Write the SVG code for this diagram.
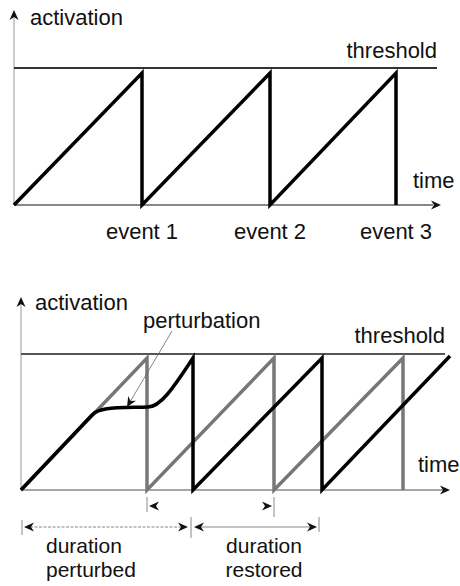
<svg xmlns="http://www.w3.org/2000/svg" xmlns:xlink="http://www.w3.org/1999/xlink" width="460" height="586" viewBox="0 0 460 586">
<style>
text{font-family:"Liberation Sans",Arial,sans-serif;font-size:22px;fill:#111}
.small{font-size:21px}
.ax{stroke:#999;stroke-width:1;fill:none}
.base{stroke:#888;stroke-width:2;fill:none}
.thr{stroke:#333;stroke-width:2;fill:none}
.wave{stroke:#000;stroke-width:3.5;fill:none;stroke-linejoin:miter;stroke-linecap:butt}
.gwave{stroke:#777;stroke-width:3.5;fill:none;stroke-linejoin:miter}
.dim{stroke:#888;stroke-width:1;fill:none}
.ah{fill:#111}
</style>
<defs>
<path id="ah" d="M0,0 L-10,-4.5 L-7,0 L-10,4.5 Z"/>
<path id="ahs" d="M0,0 L-10,-4.5 L-7,0 L-10,4.5 Z"/>
</defs>

<g id="top-plot">
  <g id="top-axes">
    <line class="ax" x1="14" y1="205" x2="14" y2="14"/>
    <use href="#ah" class="ah" transform="translate(14,10) rotate(-90)"/>
    <line class="base" x1="14" y1="205" x2="433" y2="205"/>
    <use href="#ah" class="ah" transform="translate(441,205)"/>
    <line class="thr" x1="14" y1="68" x2="437" y2="68"/>
  </g>
  <g id="top-wave">
    <polyline class="wave" points="14,205 142,73 142,205 270,73 270,205 396,73 396,205"/>
  </g>
  <g id="top-labels">
    <text x="30" y="25">activation</text>
    <text x="437" y="58" text-anchor="end">threshold</text>
    <text x="413" y="188">time</text>
    <text x="142" y="239" text-anchor="middle">event 1</text>
    <text x="270" y="239" text-anchor="middle">event 2</text>
    <text x="396" y="239" text-anchor="middle">event 3</text>
  </g>
</g>

<g id="bottom-plot">
  <g id="bottom-axes">
    <line class="ax" x1="21" y1="490" x2="21" y2="302"/>
    <use href="#ah" class="ah" transform="translate(21,297) rotate(-90)"/>
    <line class="base" x1="21" y1="490" x2="443" y2="490" style="stroke-width:1.5"/>
    <use href="#ah" class="ah" transform="translate(450,490)"/>
    <line class="thr" x1="21" y1="354" x2="445" y2="354" style="stroke:#555"/>
  </g>
  <g id="unperturbed-wave">
    <polyline class="gwave" points="21,490 147,358 147,490 274,358 274,490 403,358 403,490"/>
  </g>
  <g id="perturbed-wave">
    <path class="wave" d="M21,490 L92,415 C100,407 115,408 148,407 C160,407 172,390 193,358 L193,490 L322,358 L322,490 L450,356"/>
  </g>
  <g id="perturbation-pointer">
    <line x1="172" y1="331" x2="130" y2="402" stroke="#666" stroke-width="0.8"/>
    <use href="#ah" class="ah" transform="translate(127,407) rotate(120.6)"/>
  </g>
  <g id="connectors">
    <line class="dim" x1="147" y1="497" x2="147" y2="512"/>
    <use href="#ahs" class="ah" transform="translate(149,506) rotate(180)"/>
    <line class="dim" x1="274" y1="497" x2="274" y2="517"/>
    <use href="#ahs" class="ah" transform="translate(272,506)"/>

    <line class="dim" x1="22" y1="520" x2="22" y2="535"/>
    <line class="dim" x1="30" y1="527" x2="183" y2="527" style="stroke-dasharray:3,1.5"/>
    <use href="#ahs" class="ah" transform="translate(24,527) rotate(180)"/>
    <use href="#ahs" class="ah" transform="translate(188,527)"/>
    <line class="dim" x1="191" y1="517" x2="191" y2="538"/>
    <line class="dim" x1="198" y1="527" x2="312" y2="527"/>
    <use href="#ahs" class="ah" transform="translate(194,527) rotate(180)"/>
    <use href="#ahs" class="ah" transform="translate(317,527)"/>
    <line class="dim" x1="319" y1="517" x2="319" y2="532"/>
  </g>
  <g id="bottom-labels">
    <text x="35" y="310">activation</text>
    <text x="143" y="328">perturbation</text>
    <text x="445" y="343" text-anchor="end">threshold</text>
    <text x="418" y="472">time</text>
    <text class="small" x="46" y="553">duration</text>
    <text class="small" x="46" y="577">perturbed</text>
    <text class="small" x="264" y="553" text-anchor="middle">duration</text>
    <text class="small" x="264" y="577" text-anchor="middle">restored</text>
  </g>
</g>
</svg>
